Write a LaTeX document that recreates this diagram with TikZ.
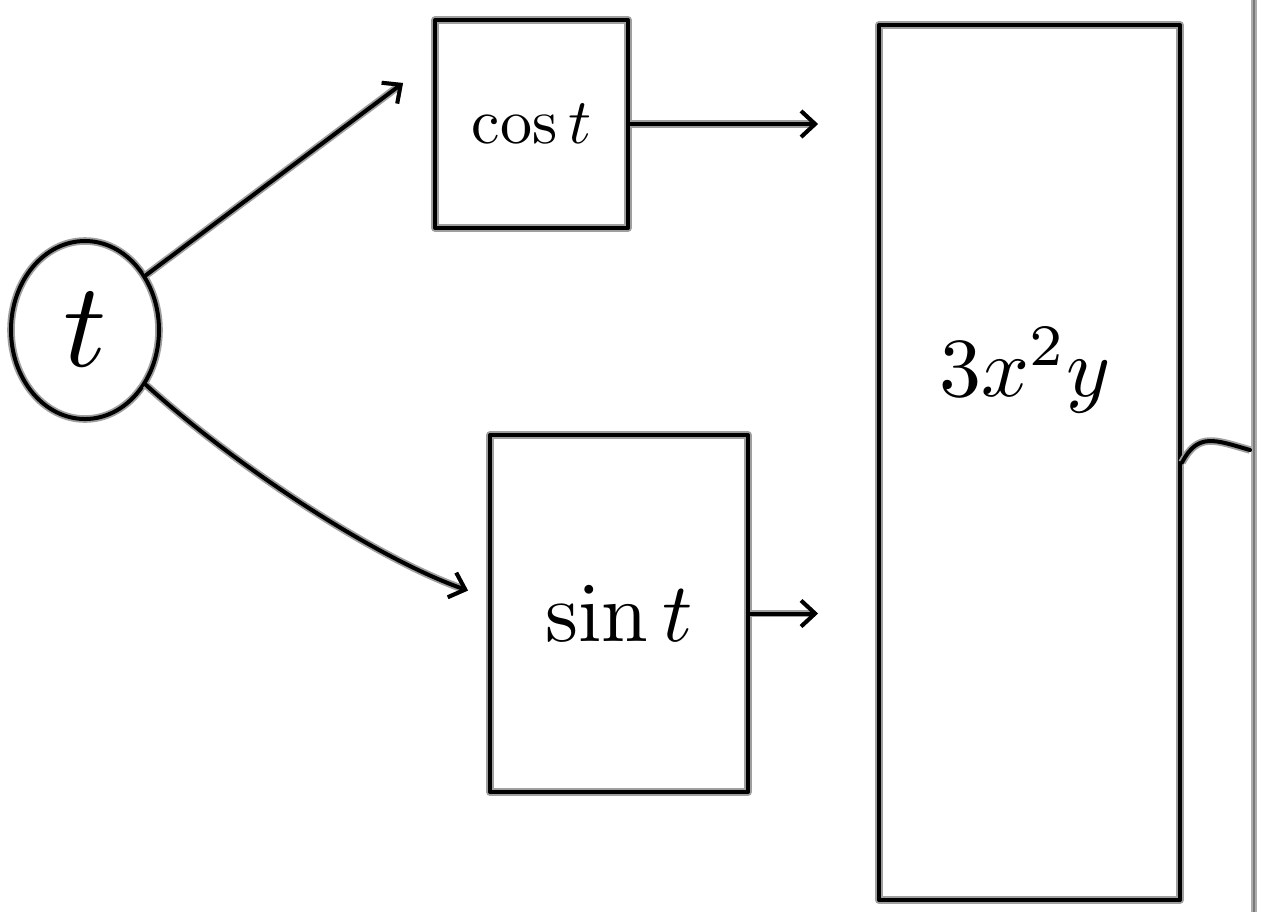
\documentclass[tikz,border=0pt]{standalone}
\usepackage{graphicx}
\usetikzlibrary{arrows.meta,shapes.geometric}
\begin{document}
\begin{tikzpicture}[x=0.5pt,y=-0.5pt,
  pen/.style={line width=2pt,black,line cap=round,line join=round,
    preaction={draw=gray!75,line width=3.8pt}},
  box/.style={pen,draw,rectangle,inner sep=0pt},
  tip/.style={-{Straight Barb[length=7pt,width=13pt,line width=2pt]}}]
\useasboundingbox (0,0) rectangle (1261,912);
% right rule
\coordinate (railtop) at (1254,0);
\coordinate (railbot) at (1254,912);
\draw[line width=3pt,gray!65] (railtop) -- (railbot);
\draw[line width=1.2pt,gray!95!black] (railtop) -- (railbot);
% nodes
\node[pen,draw,ellipse,minimum width=74pt,minimum height=89pt,inner sep=0pt] (t) at (85,330) {\scalebox{6}{$t$}};
\node[box,minimum width=96.5pt,minimum height=104pt] (cos) at (531.5,124) {\scalebox{3.2}{$\cos t$}};
\node[box,minimum width=129pt,minimum height=178.5pt] (sin) at (619,613.5) {\scalebox{4.2}{$\sin t$}};
\node[box,minimum width=150.5pt,minimum height=437.5pt] (big) at (1029.5,462.5) {};
\node (poly) at (1025,370) {\scalebox{4.2}{$3x^2y$}};
\coordinate (out) at (1250,450);
% connectors
\draw[pen,tip] (t.42) -- ([shift={(-30,65)}]cos.north west);
\draw[pen,tip,shorten >=29.5pt] (cos.east) -- (cos.east -| big.west);
\draw[pen,tip,shorten >=29.5pt] (sin.east) -- (sin.east -| big.west);
\draw[pen,tip] (t.-42) .. controls (240,470) and (380,560) .. ([shift={(-20,-23)}]sin.west);
\draw[pen] (big.east) .. controls (1198,432) and (1215,440) .. (out);
\end{tikzpicture}
\end{document}
